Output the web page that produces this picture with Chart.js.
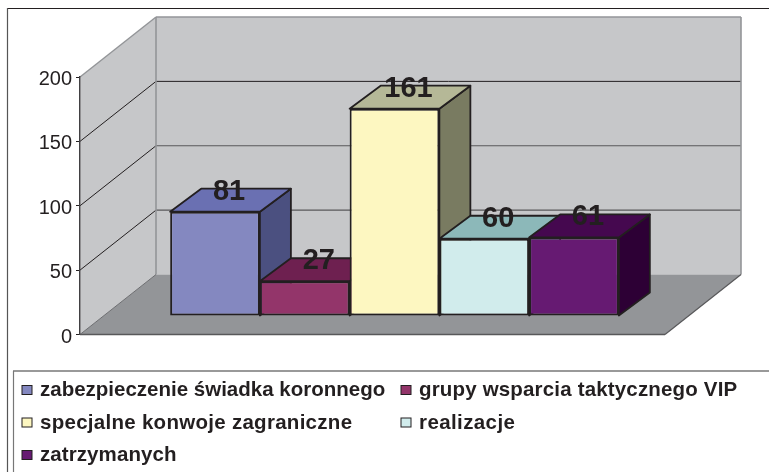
<!DOCTYPE html>
<html>
<head>
<meta charset="utf-8">
<style>
    html, body { margin: 0; padding: 0; background: #fff; }
    canvas { display: block; }
</style>
<script src="https://cdn.jsdelivr.net/npm/chart.js@4"></script>
</head>
<body>
<canvas id="chart" width="769" height="472"></canvas>
<script>
const categories = ['zabezpieczenie świadka koronnego', 'grupy wsparcia taktycznego VIP', 'specjalne konwoje zagraniczne', 'realizacje', 'zatrzymanych'];
const values = [81, 27, 161, 60, 61];
const frontColors = ['#8488c0', '#93356a', '#fdf7c1', '#d1ecec', '#661a72'];
const topColors = ['#6a70b2', '#6e2050', '#b5b897', '#8cb8b9', '#45084f'];
const sideColors = ['#4b5080', '#6e2050', '#797b61', '#8cb8b9', '#2d0035'];

const DARK = '#231f20';
const WALL = '#c6c7c9';
const FLOOR = '#939598';
// depth of the box and of the bars, in pixels
const depth = { x: 76, y: 60 };
const barDepth = { x: 31, y: 23 };
const barShift = { x: 22, y: 18.5 };

function poly(ctx, pts, fill, stroke, lw) {
    ctx.beginPath();
    pts.forEach((p, i) => i ? ctx.lineTo(p[0], p[1]) : ctx.moveTo(p[0], p[1]));
    ctx.closePath();
    if (fill) { ctx.fillStyle = fill; ctx.fill(); }
    if (stroke) { ctx.strokeStyle = stroke; ctx.lineWidth = lw; ctx.lineJoin = 'round'; ctx.stroke(); }
}

function line(ctx, x1, y1, x2, y2, color, lw) {
    ctx.beginPath();
    ctx.moveTo(x1, y1);
    ctx.lineTo(x2, y2);
    ctx.strokeStyle = color;
    ctx.lineWidth = lw;
    ctx.stroke();
}

const boxPlugin = {
    id: 'box',
    beforeDraw(chart) {
        const ctx = chart.ctx, a = chart.chartArea, y = chart.scales.y;
        const dx = depth.x, dy = depth.y;
        ctx.save();
        ctx.fillStyle = '#fff';
        ctx.fillRect(0, 0, chart.width, chart.height);

        // outer frame and legend frame
        line(ctx, 7, 8.5, 769, 8.5, DARK, 1.2);
        line(ctx, 7.5, 8, 7.5, 472, '#555', 1.2);
        line(ctx, 13, 371, 769, 371, '#777', 1.6);
        line(ctx, 13.5, 371, 13.5, 472, '#777', 1.2);

        // walls and floor
        poly(ctx, [[a.left + dx, a.top - dy], [a.right + dx, a.top - dy], [a.right + dx, a.bottom - dy], [a.left + dx, a.bottom - dy]], WALL);
        poly(ctx, [[a.left, a.top], [a.left + dx, a.top - dy], [a.left + dx, a.bottom - dy], [a.left, a.bottom]], WALL);
        poly(ctx, [[a.left, a.bottom], [a.left + dx, a.bottom - dy], [a.right + dx, a.bottom - dy], [a.right, a.bottom]], FLOOR);

        // gridlines on both walls
        y.ticks.forEach(t => {
            const p = y.getPixelForValue(t.value);
            if (t.value === y.min || t.value === y.max) return;
            const c = t.value === 150 ? DARK : '#58585a';
            line(ctx, a.left, p, a.left + dx, p - dy, DARK, 1);
            line(ctx, a.left + dx, p - dy, a.right + dx, p - dy, c, t.value === 150 ? 1 : 1.2);
        });

        // box edges
        line(ctx, a.left, a.top, a.left + dx, a.top - dy, FLOOR, 1.4);
        line(ctx, a.left + dx, a.top - dy, a.right + dx, a.top - dy, FLOOR, 1.6);
        line(ctx, a.left + dx, a.top - dy, a.left + dx, a.bottom - dy, FLOOR, 1.6);
        line(ctx, a.right + dx, a.top - dy, a.right + dx, a.bottom - dy, FLOOR, 1.6);
        line(ctx, a.left, a.bottom, a.right, a.bottom, '#58585a', 1.4);
        line(ctx, a.right, a.bottom, a.right + dx, a.bottom - dy, '#58585a', 1.2);
        line(ctx, a.left, a.bottom, a.left + dx, a.bottom - dy, '#6d6e71', 1);
        ctx.restore();
    },
    beforeDatasetsDraw(chart) {
        const ctx = chart.ctx;
        ctx.save();
        ctx.translate(barShift.x, -barShift.y);
        // side and top faces, left to right, then the library paints the fronts
        categories.forEach((name, i) => {
            const el = chart.getDatasetMeta(i).data[0];
            const l = el.x - el.width / 2, r = el.x + el.width / 2;
            const dx = barDepth.x, dy = barDepth.y;
            poly(ctx, [[r, el.y], [r + dx, el.y - dy], [r + dx, el.base - dy], [r, el.base]], sideColors[i], DARK, 1.8);
            poly(ctx, [[l, el.y], [l + dx, el.y - dy], [r + dx, el.y - dy], [r, el.y]], topColors[i], DARK, 1.8);
        });
    },
    afterDatasetsDraw(chart) {
        const ctx = chart.ctx;
        ctx.restore();
        ctx.save();
        // value labels sit on the top faces
        ctx.font = 'bold 29px "Liberation Sans"';
        ctx.fillStyle = DARK;
        ctx.textAlign = 'center';
        ctx.textBaseline = 'middle';
        values.forEach((v, i) => {
            const el = chart.getDatasetMeta(i).data[0];
            ctx.fillText(String(v), el.x + barShift.x + 14, el.y - barShift.y - 20);
        });
        ctx.restore();
    },
    afterDraw(chart) {
        const ctx = chart.ctx;
        const spots = [[22, 390], [401, 390], [22, 422.5], [401, 422.5], [22, 455]];
        const spacing = [0, 0.17, 0.28, 0.4, 0.08];
        ctx.save();
        ctx.font = 'bold 20.5px "Liberation Sans"';
        ctx.textBaseline = 'middle';
        ctx.textAlign = 'left';
        categories.forEach((name, i) => {
            const s = spots[i];
            ctx.fillStyle = frontColors[i];
            ctx.fillRect(s[0], s[1] - 4.5, 10, 9);
            ctx.strokeStyle = DARK;
            ctx.lineWidth = 1;
            ctx.strokeRect(s[0], s[1] - 4.5, 10, 9);
            ctx.fillStyle = DARK;
            ctx.letterSpacing = spacing[i] + 'px';
            ctx.fillText(name, s[0] + 18, s[1] + 0.5);
        });
        ctx.restore();
    }
};

new Chart(document.getElementById('chart').getContext('2d'), {
    type: 'bar',
    data: {
        labels: [''],
        datasets: categories.map((name, i) => ({
            label: name,
            data: [values[i]],
            backgroundColor: frontColors[i],
            borderColor: DARK,
            borderWidth: 2,
            borderSkipped: false,
            barPercentage: 1,
            categoryPercentage: 0.767
        }))
    },
    options: {
        responsive: false,
        animation: false,
        layout: { padding: { left: 10, top: 77, right: 104, bottom: 137.5 } },
        plugins: { legend: { display: false }, title: { display: false }, tooltip: { enabled: false } },
        scales: {
            x: { display: false },
            y: {
                min: 0,
                max: 200,
                ticks: { stepSize: 50, color: DARK, padding: 4, labelOffset: 2.5, font: { family: '"Liberation Sans"', size: 20 } },
                grid: { drawOnChartArea: false, drawTicks: true, tickLength: 4, tickColor: DARK, tickWidth: 1 },
                border: { display: true, color: '#414042', width: 1.4 },
                afterFit(scale) { scale.width = 70; }
            }
        }
    },
    plugins: [boxPlugin]
});
</script>
</body>
</html>
